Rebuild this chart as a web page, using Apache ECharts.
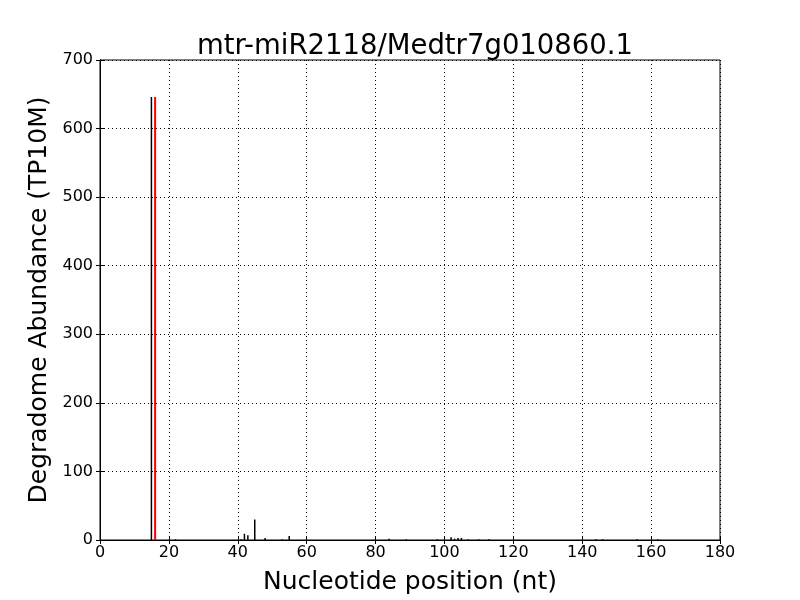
<!DOCTYPE html>
<html>
<head>
<meta charset="utf-8">
<script src="https://cdn.jsdelivr.net/npm/echarts@6/dist/echarts.min.js"></script>
<style>
  html, body { margin: 0; padding: 0; background: #fff; }
  #chart { width: 800px; height: 600px; }
</style>
</head>
<body>
<div id="chart"></div>
<script>
const titleText = "mtr-miR2118/Medtr7g010860.1";
const xTicks = [0, 20, 40, 60, 80, 100, 120, 140, 160, 180];
const yTicks = [0, 100, 200, 300, 400, 500, 600, 700];

// degradome reads per position (black)
const positions = [15, 22, 41, 42, 43, 45, 48, 53, 55, 84, 89, 98, 102, 103, 104, 105, 107, 110, 113, 144, 146, 156, 162];
const abundance = [646, 1, 1, 9, 7, 30, 3, 1, 6, 2, 1, 1, 4, 2, 3, 3, 1, 1, 1, 1, 1, 1, 1];

// predicted cleavage site (red)
const sitePosition = [16];
const siteAbundance = [646];

const chart = echarts.init(document.getElementById("chart"));
const font = "DejaVu Sans";

const axisCommon = {
  axisLine: { show: true, lineStyle: { color: "#000", width: 1 } },
  axisTick: { show: true, inside: true, length: 4, lineStyle: { color: "#000" } },
  splitLine: { show: false },
};

const option = {
  animation: false,
  textStyle: { fontFamily: font },
  title: {
    text: titleText,
    left: 410,
    top: 28,
    textAlign: "center",
    textStyle: { fontFamily: font, fontSize: 27.5, fontWeight: "normal", color: "#000" },
  },
  grid: {
    left: 100, right: 80, top: 60, bottom: 60,
    show: true, borderColor: "#000", borderWidth: 1,
  },
  xAxis: [
    {
      ...axisCommon,
      type: "value",
      min: 0, max: 180, interval: 20,
      name: "Nucleotide position (nt)",
      nameLocation: "middle",
      nameGap: 30,
      nameTextStyle: { fontFamily: font, fontSize: 25, color: "#000" },
      axisLabel: {
        color: "#000", fontFamily: font, fontSize: 16, margin: 5,
        formatter: (v) => (xTicks.includes(v) ? String(v) : ""),
      },
      splitLine: { show: true, lineStyle: { color: "#000", type: [1, 3], width: 1 } },
    },
    {
      ...axisCommon,
      type: "value",
      position: "top",
      min: 0, max: 180, interval: 20,
      axisLabel: { show: false },
    },
  ],
  yAxis: [
    {
      ...axisCommon,
      type: "value",
      min: 0, max: 700, interval: 100,
      name: "Degradome Abundance (TP10M)",
      nameLocation: "middle",
      nameGap: 43,
      nameTextStyle: { fontFamily: font, fontSize: 25, color: "#000" },
      axisLabel: {
        color: "#000", fontFamily: font, fontSize: 16, margin: 7,
        formatter: (v) => (yTicks.includes(v) ? String(v) : ""),
      },
      splitLine: { show: true, lineStyle: { color: "#000", type: [1, 3], width: 1 } },
    },
    {
      ...axisCommon,
      type: "value",
      position: "right",
      min: 0, max: 700, interval: 100,
      axisLabel: { show: false },
    },
  ],
  series: [
    {
      type: "bar",
      name: "reads",
      barWidth: 1.5,
      barGap: "-100%",
      itemStyle: { color: "#000" },
      data: positions.map((p, i) => [p, abundance[i]]),
      z: 3,
    },
    {
      type: "bar",
      name: "site",
      barWidth: 2,
      barGap: "-100%",
      itemStyle: { color: "#ff0000" },
      data: sitePosition.map((p, i) => [p, siteAbundance[i]]),
      z: 4,
    },
  ],
};

chart.setOption(option);
</script>
</body>
</html>
